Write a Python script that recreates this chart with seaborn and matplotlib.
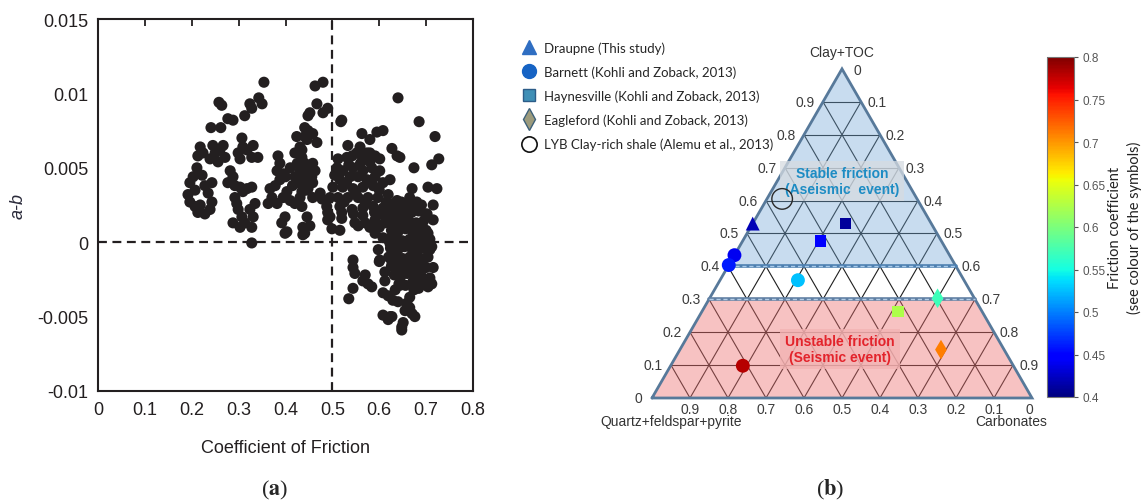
import numpy as np
import pandas as pd
import matplotlib
matplotlib.use("Agg")
import matplotlib.pyplot as plt
import seaborn as sns
from matplotlib.lines import Line2D
from matplotlib.colors import Normalize
from matplotlib.cm import ScalarMappable
from matplotlib.patches import Polygon

# ---------------------------------------------------------------- panel (a)
# coefficient of friction, one entry per measurement (grouped by cloud)
friction = [
    .354, .258, .264, .324, .343, .350, .328, .313, .277, .288, .241, .262,
    .218, .224, .213, .245, .250, .260, .267, .271, .256, .239, .307, .309, .299, .303, .318, .328, .341, .331,
    .211, .203, .196, .192, .196, .207, .213, .228, .239, .243, .235, .243, .228, .222, .207, .218,
    .282, .288, .277, .292, .303, .318, .328, .309, .292, .296, .299, .307, .313, .328, .331, .324, .335, .288, .303, .328,
    .384, .388, .382, .395, .388, .378, .367, .371, .363, .382, .395, .410, .403, .399, .392, .403,
    .424, .431, .420, .435, .441, .431, .420, .410, .427, .441, .446, .431, .420, .448, .441, .415, .435, .450, .425, .400,
    .463, .480, .467, .452, .448, .480, .490, .441, .458, .467, .446, .435,
    .458, .463, .446, .435, .456, .437, .458, .448, .474, .458, .435, .446, .437, .452, .441, .399, .437, .478, .490, .490,
    .640, .520, .518, .563, .595, .608, .580, .533, .559, .574, .627, .638, .685, .719, .727, .712, .674, .644,
    .512, .531, .542, .552, .563, .580, .591, .601,
    .510, .522, .544, .565, .584, .601, .591, .574, .555, .538, .516,
    .501, .522, .544, .565, .587, .608, .623,
    .495, .512, .533, .555, .576, .597, .619, .638,
    .488, .516, .542, .565, .587, .608, .627, .644, .659,
    .495, .520, .548, .570, .591, .612, .634,
    .499, .516, .555, .591, .608, .623,
    .530, .550, .570, .590, .610, .525, .600, .615, .505, .560, .535, .580, .520, .545, .565, .600, .580,
    .670, .704, .723, .715, .702, .715, .704, .665, .680,
    .632, .647, .661, .676, .690,
    .626, .641, .655, .669, .684, .698,
    .620, .636, .650, .664, .679, .694,
    .626, .640, .656, .670, .686, .700,
    .618, .634, .649, .665, .680, .694, .708,
    .624, .640, .654, .669, .684, .699, .712,
    .620, .635, .650, .665, .680, .695,
    .626, .641, .655, .670, .686, .700,
    .632, .646, .660, .675, .690,
    .642, .656, .671, .686,
    .708, .704, .715, .708, .704, .712, .708, .690, .684, .674,
    .629, .644, .659, .673, .688, .633, .648, .662, .677, .692, .627, .642, .657, .672, .687, .638, .652, .667, .682,
    .544, .544, .548, .570, .565, .576, .584, .544, .535, .601, .612, .608, .619, .629, .608, .623, .619,
    .648, .651, .665, .659, .665, .670, .676, .640, .644, .634, .627, .655, .648, .600, .612, .598,
]
# a-b in units of 1e-3, same order as friction
a_minus_b_e3 = [
    10.75, 9.4, 9.2, 9.3, 9.7, 9.3, 9.0, 8.5, 8.3, 8.2, 7.7, 7.7,
    6.4, 6.0, 5.8, 6.5, 6.0, 6.2, 6.5, 5.7, 5.4, 5.6, 7.0, 6.4, 6.0, 5.6, 6.2, 5.7, 5.7, 6.5,
    5.0, 4.4, 4.0, 3.2, 2.7, 2.4, 2.0, 1.9, 2.2, 2.7, 3.3, 4.0, 3.8, 4.5, 3.5, 2.5,
    4.8, 4.4, 4.0, 3.8, 3.7, 3.6, 3.7, 3.4, 3.0, 2.6, 2.2, 1.7, 1.3, 1.0, 1.7, 2.2, 2.6, 1.3, 1.0, -0.05,
    5.8, 5.3, 4.8, 4.6, 4.2, 3.8, 3.6, 3.0, 2.6, 2.6, 3.0, 2.8, 3.4, 1.7, 1.3, 0.7,
    7.1, 6.4, 6.0, 5.7, 5.3, 4.8, 4.4, 5.0, 4.0, 4.2, 3.5, 3.0, 2.6, 7.5, 7.1, 3.8, 3.4, 4.6, 5.3, 4.4,
    10.5, 10.75, 9.3, 8.7, 8.5, 8.7, 9.0, 7.7, 7.3, 6.7, 6.9, 6.2,
    5.3, 4.8, 4.8, 4.6, 4.4, 4.0, 4.0, 3.6, 3.3, 3.0, 2.4, 1.7, 1.0, 1.1, 0.6, 0.6, 0.5, 2.9, 2.0, 1.5,
    9.7, 8.2, 8.1, 7.3, 7.4, 7.5, 6.9, 6.5, 6.4, 6.0, 6.3, 5.8, 8.1, 7.1, 5.6, 5.2, 5.0, 5.7,
    5.6, 5.7, 5.8, 6.0, 5.8, 6.0, 5.8, 5.6,
    5.0, 4.8, 5.0, 4.8, 5.0, 4.8, 4.4, 4.2, 4.4, 4.4, 4.2,
    3.7, 3.7, 3.6, 3.7, 3.8, 4.0, 4.2,
    3.0, 3.0, 3.0, 3.0, 3.0, 3.0, 3.2, 2.8,
    2.4, 2.4, 2.2, 2.3, 2.4, 2.3, 2.2, 2.4, 2.6,
    1.7, 1.6, 1.3, 1.3, 1.5, 1.3, 1.6,
    0.9, 0.8, 1.1, 0.6, 0.3, -0.1,
    4.0, 3.3, 2.7, 2.0, 1.8, 2.7, 3.5, 2.7, 4.5, 5.3, 5.2, 5.4, 2.0, 1.9, 1.8, 1.0, 1.0,
    3.6, 3.7, 3.6, 2.5, 1.9, 1.5, 0.6, 3.0, 2.7,
    2.6, 2.7, 2.5, 2.6, 2.5,
    2.0, 2.1, 1.9, 2.0, 2.1, 1.9,
    1.4, 1.3, 1.5, 1.4, 1.3, 1.4,
    0.8, 0.7, 0.9, 0.8, 0.7, 0.8,
    0.2, 0.3, 0.1, 0.2, 0.3, 0.1, 0.2,
    -0.4, -0.5, -0.3, -0.4, -0.5, -0.4, -0.3,
    -1.0, -0.9, -1.1, -1.0, -0.9, -1.1,
    -1.6, -1.5, -1.7, -1.6, -1.5, -1.7,
    -2.2, -2.3, -2.1, -2.2, -2.3,
    -2.8, -2.9, -2.7, -2.9,
    -0.5, -1.0, -1.7, -2.6, -3.0, -2.8, -2.4, -2.6, -3.1, -3.2,
    1.1, 1.2, 1.0, 1.1, 1.0, -0.1, -0.2, 0.0, -0.1, -0.2, -1.3, -1.4, -1.2, -1.3, -1.2, -1.9, -2.0, -1.9, -2.0,
    -1.2, -1.7, -2.1, -2.2, -2.6, -2.8, -3.0, -3.1, -3.8, -1.2, -2.6, -3.4, -3.6, -3.9, -4.9, -5.0, -5.2,
    -5.7, -5.4, -3.7, -4.1, -4.4, -4.8, -5.0, -4.0, -2.9, -3.2, -5.0, -4.6, -5.9, -1.3, -2.0, -0.5,
]
x_ticks = [0, 0.1, 0.2, 0.3, 0.4, 0.5, 0.6, 0.7, 0.8]
x_tick_labels = ["0", "0.1", "0.2", "0.3", "0.4", "0.5", "0.6", "0.7", "0.8"]
y_ticks = [-0.01, -0.005, 0, 0.005, 0.01, 0.015]
y_tick_labels = ["-0.01", "-0.005", "0", "0.005", "0.01", "0.015"]

# ---------------------------------------------------------------- panel (b)
sample_set = ["Draupne", "Barnett", "Barnett", "Barnett", "Barnett",
              "Haynesville", "Haynesville", "Haynesville", "Eagleford", "Eagleford"]
sample_clay = [0.53, 0.434, 0.404, 0.358, 0.098, 0.53, 0.477, 0.263, 0.303, 0.147]
sample_carb = [0.00, 0.00, 0.00, 0.205, 0.19, 0.245, 0.204, 0.516, 0.60, 0.687]
sample_mu = [0.42, 0.44, 0.46, 0.525, 0.78, 0.41, 0.45, 0.625, 0.57, 0.71]
lyb_clay, lyb_carb = 0.605, 0.04
ternary_ticks = [0.1, 0.2, 0.3, 0.4, 0.5, 0.6, 0.7, 0.8, 0.9]
legend_labels = ["Draupne (This study)", "Barnett (Kohli and Zoback, 2013)",
                 "Haynesville (Kohli and Zoback, 2013)", "Eagleford (Kohli and Zoback, 2013)",
                 "LYB Clay-rich shale (Alemu et al., 2013)"]
cbar_ticks = [0.4, 0.45, 0.5, 0.55, 0.6, 0.65, 0.7, 0.75, 0.8]

# ---------------------------------------------------------------- style
sns.set_theme(style="white")
plt.rcParams["font.family"] = ["Liberation Sans", "DejaVu Sans"]
plt.rcParams["mathtext.fontset"] = "stix"

W, Hpx = 1145, 502
fig = plt.figure(figsize=(W / 100, Hpx / 100), dpi=100)
fig.patch.set_facecolor("white")
ink = "#231f20"
jet = matplotlib.colormaps["jet"]

def fx(px):
    return px / W

def fy(py):
    return 1 - py / Hpx

# ---------------------------------------------------------------- (a) scatter
axa = fig.add_axes([fx(98), fy(392), 375 / W, 372 / Hpx])
df_a = pd.DataFrame({"mu": friction, "ab": np.array(a_minus_b_e3) / 1000.0})
axa.axvline(0.5, color=ink, lw=1.6, ls=(0, (4, 2.5)), zorder=1)
axa.axhline(0.0, color=ink, lw=1.6, ls=(0, (4, 2.5)), zorder=1)
sns.scatterplot(data=df_a, x="mu", y="ab", ax=axa, color=ink, s=64,
                edgecolor="none", linewidth=0, legend=False, zorder=3)
axa.set_xlim(0, 0.8)
axa.set_ylim(-0.01, 0.015)
axa.set_xticks(x_ticks, x_tick_labels)
axa.set_yticks(y_ticks, y_tick_labels)
axa.tick_params(direction="in", length=5, width=1.3, colors=ink, labelsize=13,
                top=True, right=False, pad=7)
for sp in axa.spines.values():
    sp.set_color(ink)
    sp.set_linewidth(1.5)
axa.set_xlabel("Coefficient of Friction", fontsize=13, color=ink)
axa.set_ylabel("a-b", fontsize=13, color="#2a2a3a", fontstyle="italic")
axa.xaxis.set_label_coords(0.5, -0.13)
axa.yaxis.set_label_coords(-0.19, 0.5)

fig.text(fx(275), fy(490), r"($\mathbf{a}$)", ha="center", va="center",
         fontsize=16, family="Liberation Serif")
fig.text(fx(830), fy(490), r"($\mathbf{b}$)", ha="center", va="center",
         fontsize=16, family="Liberation Serif")

# ---------------------------------------------------------------- (b) ternary
S = 380.0  # pixels per unit side
axb = fig.add_axes([fx(490), fy(480), 550 / W, 460 / Hpx])
h = np.sqrt(3) / 2

def tern(clay, carb):
    clay = np.asarray(clay, float)
    carb = np.asarray(carb, float)
    return carb + 0.5 * clay, clay * h

grid_c = "#1e1e1e"
for t in ternary_ticks:
    # constant clay
    axb.plot([0.5 * t, 1 - 0.5 * t], [t * h, t * h], color=grid_c, lw=0.8, zorder=1)
    # constant carbonate
    axb.plot([t, t + 0.5 * (1 - t)], [0, (1 - t) * h], color=grid_c, lw=0.8, zorder=1)
    # constant quartz+feldspar+pyrite
    axb.plot([1 - t, (1 - t) / 2], [0, (1 - t) * h], color=grid_c, lw=0.8, zorder=1)

axb.add_patch(Polygon([(0.2, 0.4 * h), (0.8, 0.4 * h), (0.5, h)], closed=True,
                      facecolor="#6fa5d5", alpha=0.38, edgecolor="none", zorder=2))
axb.add_patch(Polygon([(0, 0), (1, 0), (0.85, 0.3 * h), (0.15, 0.3 * h)], closed=True,
                      facecolor="#ee6f6f", alpha=0.42, edgecolor="none", zorder=2))

edge_c = "#57799a"
axb.plot([0, 1, 0.5, 0], [0, 0, h, 0], color=edge_c, lw=2.0, zorder=3,
         solid_joinstyle="miter")
axb.plot([0.2, 0.8], [0.4 * h, 0.4 * h], color="#4c7fb0", lw=2.6, zorder=3)
axb.plot([0.2, 0.8], [0.4 * h, 0.4 * h], color="#a9cbea", lw=1.0, ls=(0, (3, 2)), zorder=3)
axb.plot([0.15, 0.85], [0.3 * h, 0.3 * h], color="#5f7fa3", lw=2.6, zorder=3)
axb.plot([0.15, 0.85], [0.3 * h, 0.3 * h], color="#b5cde6", lw=1.0, ls=(0, (3, 2)), zorder=3)

lab_c = "#3c3c3c"
for t in ternary_ticks:
    xl, yl = tern(t, 0)
    axb.text(xl - 8 / S, yl, f"{t:.1f}", ha="right", va="center", fontsize=10, color=lab_c)
    xr, yr = tern(t, 1 - t)
    axb.text(xr + 6 / S, yr, f"{1 - t:.1f}", ha="left", va="center", fontsize=10, color=lab_c)
    axb.text(t, -11 / S, f"{1 - t:.1f}", ha="center", va="center", fontsize=10, color=lab_c)
axb.text(-10 / S, 0, "0", ha="right", va="center", fontsize=10, color=lab_c)
axb.text(0.5 + 12 / S, h - 1 / S, "0", ha="left", va="center", fontsize=10, color=lab_c)
axb.text(1.0 - 3 / S, -11 / S, "0", ha="center", va="center", fontsize=10, color=lab_c)
axb.text(0.5, h + 17 / S, "Clay+TOC", ha="center", va="center", fontsize=10, color="#333")
axb.text((671 - 652) / S, -23 / S, "Quartz+feldspar+pyrite", ha="center", va="center",
         fontsize=10, color="#333")
axb.text((1011 - 652) / S, -23 / S, "Carbonates", ha="center", va="center",
         fontsize=10, color="#333")

axb.text((842 - 652) / S, (399 - 182) / S, "Stable friction\n(Aseismic  event)",
         ha="center", va="center", fontsize=10, fontweight="bold", color="#1d8cc4",
         linespacing=1.25, zorder=4,
         bbox=dict(boxstyle="square,pad=0.35", facecolor="#d6dbe1", edgecolor="none", alpha=0.75))
axb.text((840 - 652) / S, (399 - 350) / S, "Unstable friction\n(Seismic event)",
         ha="center", va="center", fontsize=10, fontweight="bold", color="#e3232b",
         linespacing=1.25, zorder=4,
         bbox=dict(boxstyle="square,pad=0.35", facecolor="#f3b3b3", edgecolor="none", alpha=0.8))

df_b = pd.DataFrame({"set": sample_set, "clay": sample_clay, "carb": sample_carb, "mu": sample_mu})
df_b["x"], df_b["y"] = tern(df_b["clay"], df_b["carb"])
marker_of = {"Draupne": ("^", 100), "Barnett": ("o", 100), "Haynesville": ("s", 64),
             "Eagleford": ("d", 100)}
norm = Normalize(0.4, 0.8)
for name, (mk, size) in marker_of.items():
    sub = df_b[df_b["set"] == name]
    sns.scatterplot(data=sub, x="x", y="y", hue="mu", palette=jet, hue_norm=norm,
                    marker=mk, s=size, edgecolor="none", linewidth=0, legend=False,
                    ax=axb, zorder=5)
lx, ly = tern(lyb_clay, lyb_carb)
axb.scatter([lx], [ly], s=220, facecolors="none", edgecolors="#2a2a2a", linewidths=1.0, zorder=5)
axb.set_xlim(-162 / S, 388 / S)
axb.set_ylim(-81 / S, 379 / S)
axb.axis("off")

# legend
handles = [
    Line2D([], [], ls="none", marker="^", ms=10, mfc="#2f6ec2", mec="#2f6ec2"),
    Line2D([], [], ls="none", marker="o", ms=10, mfc="#1663c4", mec="#1663c4"),
    Line2D([], [], ls="none", marker="s", ms=9, mfc="#3f8fb6", mec="#2c5c88"),
    Line2D([], [], ls="none", marker="d", ms=11, mfc="#9c9b7d", mec="#3d6079"),
    Line2D([], [], ls="none", marker="o", ms=11, mfc="none", mec="#111", mew=1.2),
]
fig.legend(handles, legend_labels, loc="upper left", bbox_to_anchor=(fx(520), fy(42)),
           frameon=False, prop={"family": "Lato", "size": 9.5}, labelspacing=0.88,
           handletextpad=0.5, handlelength=1.3, borderpad=0, borderaxespad=0)

# colorbar
cax = fig.add_axes([fx(1047), fy(398), 27 / W, 340 / Hpx])
cb = fig.colorbar(ScalarMappable(norm=norm, cmap=jet), cax=cax, ticks=cbar_ticks)
cb.ax.set_yticklabels([f"{v:g}" for v in cbar_ticks])
cb.ax.tick_params(labelsize=8.5, colors="#555", length=3, width=0.8, pad=3)
cb.outline.set_edgecolor("#777")
cb.outline.set_linewidth(0.8)
fig.text(fx(1125), fy(228), "Friction coefficient\n(see colour of the symbols)",
         rotation=90, ha="center", va="center", fontsize=10.5, family="Lato",
         color="#222", linespacing=1.4)

fig.savefig("out.png", dpi=100, facecolor="white")
